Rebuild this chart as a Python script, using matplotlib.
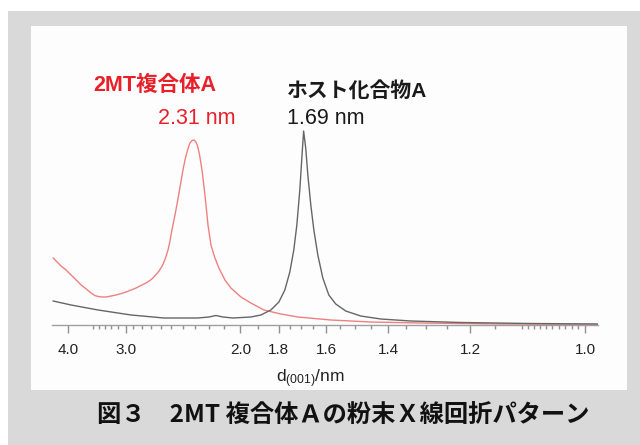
import matplotlib
matplotlib.use('Agg')
import numpy as np
import matplotlib.pyplot as plt
from matplotlib.patches import Rectangle
from matplotlib.ticker import FixedLocator

# Cu K-alpha wavelength (nm), used to place d-spacing ticks on the 2-theta axis
wavelength = 0.15406

# 2MT complex A (red trace): 2-theta (deg) vs intensity (a.u.)
complex_tt = [2.015, 2.066, 2.117, 2.180, 2.245, 2.310, 2.373, 2.440, 2.501, 2.550,
              2.591, 2.640, 2.694, 2.760, 2.822, 2.890, 2.950, 3.014, 3.078, 3.140,
              3.206, 3.255, 3.295, 3.335, 3.372, 3.405, 3.436, 3.462, 3.487, 3.508,
              3.526, 3.550, 3.577, 3.603, 3.628, 3.655, 3.679, 3.705, 3.731, 3.750,
              3.769, 3.795, 3.822, 3.845, 3.866, 3.890, 3.923, 3.961, 4.000, 4.038,
              4.089, 4.140, 4.217, 4.294, 4.422, 4.550, 4.717, 4.934, 5.152, 5.574,
              6.087, 6.727, 7.751, 9.006]
complex_int = [67, 63, 59, 55, 50, 45, 40, 36, 32, 29.5,
               28.5, 28, 28, 29, 30, 31.5, 33, 35, 37, 39.5,
               42, 44.5, 47, 50.5, 54, 58, 63, 68.5, 75, 82,
               90, 100, 110, 121, 132, 144, 155, 165, 173, 178,
               182, 184.5, 185, 183, 179, 171, 155, 130, 100, 80,
               67, 57, 45, 37, 28, 22, 15, 11, 8, 5,
               3, 2, 1, 0.5]

# host compound A (grey trace)
host_tt = [2.015, 2.245, 2.591, 3.014, 3.436, 3.871, 4.012, 4.102, 4.191, 4.320,
           4.550, 4.678, 4.806, 4.909, 4.985, 5.049, 5.100, 5.139, 5.177, 5.203,
           5.226, 5.254, 5.280, 5.318, 5.357, 5.408, 5.472, 5.549, 5.638, 5.766,
           5.958, 6.215, 6.599, 7.239, 8.135, 9.006]
host_int = [24, 20, 15, 10, 7, 7, 8, 9.5, 8, 7,
            8, 10, 15, 23, 35, 53, 75, 100, 135, 167,
            194, 176, 150, 120, 95, 70, 47, 30, 21, 14,
            9, 6, 4, 2.5, 1.5, 1]

# peak d-spacings (nm)
complex_peak_d = 2.31
host_peak_d = 1.69

# d-spacing ticks (nm)
major_d = [4.0, 3.0, 2.0, 1.8, 1.6, 1.4, 1.2, 1.0]
minor_d = [3.5, 3.4, 3.3, 3.2, 3.1,
           2.9, 2.8, 2.7, 2.6, 2.5, 2.4, 2.3, 2.2, 2.1, 1.9,
           1.75, 1.7, 1.65, 1.55, 1.5, 1.45, 1.35, 1.3, 1.25, 1.15, 1.1,
           1.09, 1.08, 1.07, 1.06, 1.05, 1.04, 1.03, 1.02, 1.01]


def d_to_tt(d):
    return 2 * np.degrees(np.arcsin(wavelength / (2 * np.asarray(d))))


W, H = 640, 445
fig = plt.figure(figsize=(6.4, 4.45), dpi=100, facecolor='white')

# grey frame and white panel
fig.patches.append(Rectangle((8 / W, 0), 1 - 8 / W, 1 - 11 / H,
                             transform=fig.transFigure, facecolor='#d9d9d9',
                             edgecolor='none', zorder=-2))
fig.patches.append(Rectangle((31 / W, 1 - 390 / H), (627 - 31) / W, (390 - 26) / H,
                             transform=fig.transFigure, facecolor='#fdfdfd',
                             edgecolor='none', zorder=-1))

ax = fig.add_axes([52 / W, 1 - 325 / H, (598 - 52) / W, 265 / H])
ax.patch.set_alpha(0)

ax.plot(complex_tt, complex_int, color='#f08080', lw=1.0)
ax.plot(host_tt, host_int, color='#666666', lw=1.0)

ax.set_xlim(2.0, 9.0)
ax.set_ylim(0, 265)

for s in ['top', 'left', 'right']:
    ax.spines[s].set_visible(False)
ax.spines['bottom'].set_color('#a0a0a0')
ax.spines['bottom'].set_linewidth(1.0)
ax.set_yticks([])

ax.xaxis.set_major_locator(FixedLocator(d_to_tt(major_d)))
ax.xaxis.set_minor_locator(FixedLocator(d_to_tt(minor_d)))
ax.set_xticklabels([f'{d:.1f}' for d in major_d])
ax.tick_params(axis='x', which='major', length=6, width=1, color='#909090',
               pad=7, labelsize=11, labelcolor='#222222')
ax.tick_params(axis='x', which='minor', length=3, width=1, color='#909090')
for lab in ax.get_xticklabels():
    lab.set_family('Liberation Sans')

latin_cjk = ['Liberation Sans', 'Noto Sans CJK JP']

# axis title with smaller (001)
fig.text(310 / W, 1 - 379 / H, r'd$\mathregular{_{(001)}}$/nm', ha='center', va='center',
         fontsize=12.5, family='Liberation Sans', color='#222222')

# peak annotations
fig.text(93 / W, 1 - 85 / H, '2MT複合体A', ha='left', va='center', fontsize=15.5,
         fontweight='bold', family=latin_cjk, color='#e8202a')
fig.text(158 / W, 1 - 118 / H, f'{complex_peak_d:.2f} nm', ha='left', va='center',
         fontsize=15.5, family=latin_cjk, color='#e8202a')
fig.text(287 / W, 1 - 91 / H, 'ホスト化合物A', ha='left', va='center', fontsize=15,
         fontweight='bold', family=latin_cjk, color='#1a1a1a')
fig.text(287 / W, 1 - 118 / H, f'{host_peak_d:.2f} nm', ha='left', va='center',
         fontsize=15.5, family=latin_cjk, color='#1a1a1a')

# figure caption
fig.text(343 / W, 1 - 415 / H, '図３　2MT 複合体Ａの粉末Ｘ線回折パターン', ha='center',
         va='center', fontsize=17.5, fontweight='bold',
         family=['Noto Sans CJK JP', 'DejaVu Sans'], color='#111111')

fig.savefig('out.png', dpi=100)
